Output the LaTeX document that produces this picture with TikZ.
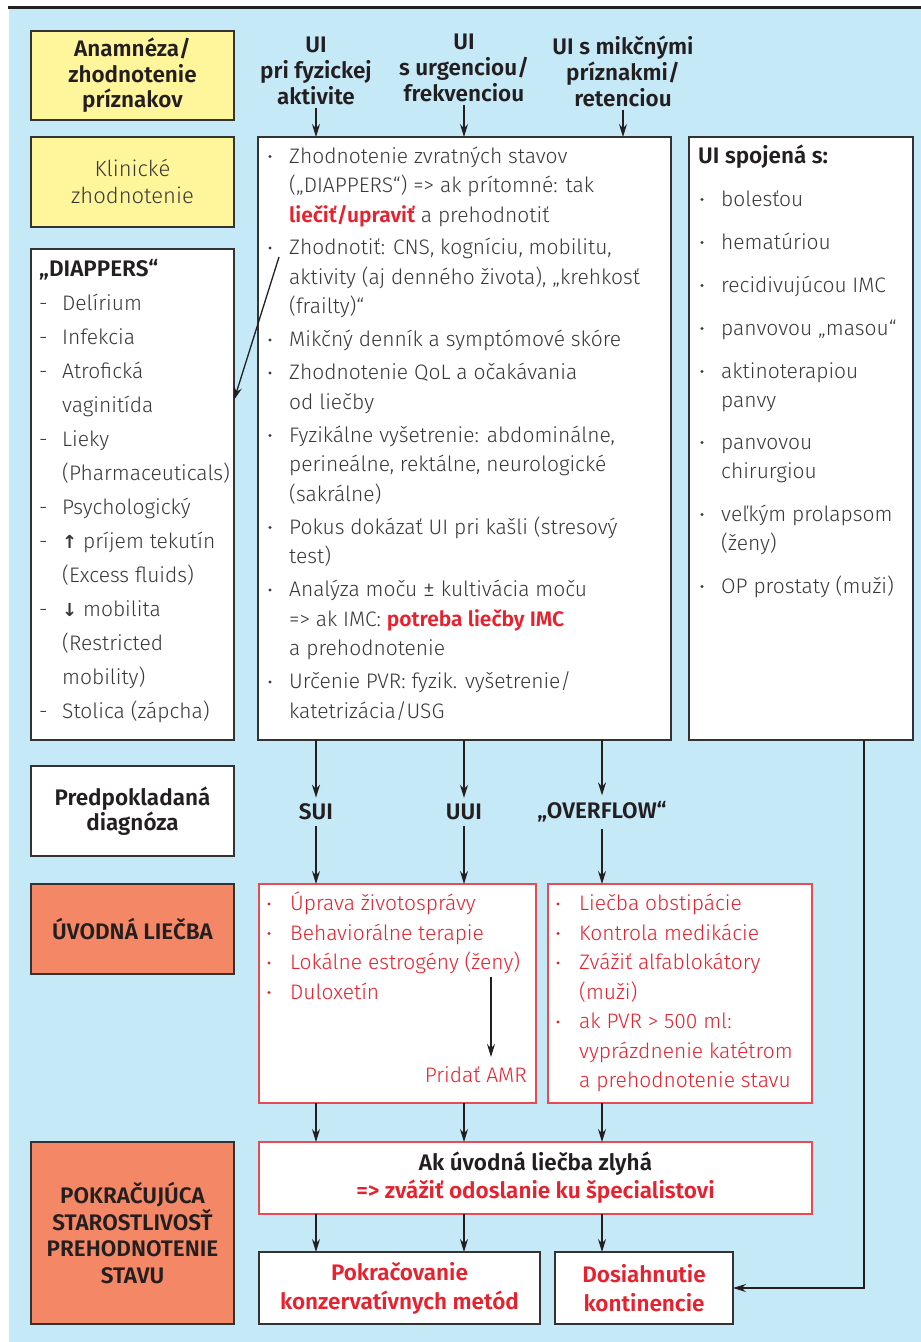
\documentclass[tikz,border=0pt]{standalone}
\usepackage{fontspec}
\setmainfont{Fira Sans Light}[BoldFont={Fira Sans SemiBold}]
\newfontfamily\djv{DejaVu Sans}
\usetikzlibrary{arrows.meta,calc}
\definecolor{bgblue}{HTML}{C6E9F8}
\definecolor{ylw}{HTML}{FFF59B}
\definecolor{salmon}{HTML}{F48866}
\definecolor{redt}{HTML}{E8212E}
\definecolor{redb}{HTML}{E94B55}
\definecolor{txt}{HTML}{383838}
\definecolor{dark}{HTML}{231F20}
\definecolor{brd}{HTML}{333333}
\tikzset{
 box/.style={draw=brd, line width=1.4pt, fill=white, inner sep=0pt, outer sep=0pt, anchor=north west, align=center},
 rbox/.style={box, draw=redb},
 hdr/.style={font=\bfseries\fontsize{22.5}{25.5}\selectfont, text=dark, align=center},
 lt/.style={font=\fontsize{21}{29.5}\selectfont, text=txt, anchor=base west, inner sep=0pt},
 rt/.style={lt, text=redt},
 arr/.style={draw=dark, line width=1.3pt, -{Stealth[length=13pt,width=8pt]}},
}
\newcommand\bul[3]{\fill[#1] (#2,#3-6.5) circle (1.7pt);}
\newcommand\dsh{\makebox[23pt][l]{-}}
\begin{document}
\begin{tikzpicture}[x=1pt,y=-1pt]
\useasboundingbox (0,0) rectangle (921,1342);
\fill[white] (0,0) rectangle (921,1342);
\fill[bgblue] (9,9) rectangle (921,1342);
\draw[line width=3pt,dark] (8,7.5) -- (921,7.5);

% left column boxes
\node[box, fill=ylw, minimum width=203, minimum height=89, hdr] (anam) at (31,31) {Anamnéza/\\zhodnotenie\\príznakov};
\node[box, fill=ylw, minimum width=203, minimum height=90, font=\fontsize{22}{27}\selectfont, text=txt] (klin) at (31,137) {Klinické\\zhodnotenie};
\node[box, minimum width=203, minimum height=491] (diap) at (31,249) {};
\node[box, minimum width=203, minimum height=90, hdr] (pred) at (31,766) {Predpokladaná\\diagnóza};
\node[box, fill=salmon, minimum width=203, minimum height=90, hdr] (uvod) at (31,884) {ÚVODNÁ LIEČBA};
\node[box, fill=salmon, minimum width=203, minimum height=182, hdr, font=\bfseries\fontsize{22.5}{26.7}\selectfont] (pokr) at (31,1142) {POKRAČUJÚCA\\STAROSTLIVOSŤ\\PREHODNOTENIE\\STAVU};

% headers
\node[hdr, font=\bfseries\fontsize{22.5}{26}\selectfont, inner sep=3pt] (h1) at (316,71) {UI\\pri fyzickej\\aktivite};
\node[hdr, font=\bfseries\fontsize{22.5}{26}\selectfont, inner sep=3pt] (h2) at (464,68) {UI\\s urgenciou/\\frekvenciou};
\node[hdr, font=\bfseries\fontsize{22.5}{26}\selectfont, inner sep=3pt] (h3) at (623,71) {UI s mikčnými\\príznakmi/\\retenciou};

% main boxes
\node[box, minimum width=413, minimum height=603] (main) at (258,137) {};
\node[box, minimum width=224, minimum height=603] (uib) at (689,137) {};
\node[rbox, minimum width=277, minimum height=219] (rb1) at (259,884) {};
\node[rbox, minimum width=264, minimum height=219] (rb2) at (548,884) {};
\node[rbox, minimum width=553, minimum height=72, hdr, font=\bfseries\fontsize{22.5}{28}\selectfont] (ak) at (259,1142) {Ak úvodná liečba zlyhá\\{\color{redt}=> zvážiť odoslanie ku špecialistovi}};
\node[box, minimum width=281, minimum height=72, hdr, text=redt, font=\bfseries\fontsize{22.5}{29}\selectfont] (pok) at (259,1252) {Pokračovanie\\konzervatívnych metód};
\node[box, minimum width=178, minimum height=72, hdr, text=redt, font=\bfseries\fontsize{22.5}{29}\selectfont] (dos) at (555,1252) {Dosiahnutie\\kontinencie};

% diagnosis labels
\node[hdr, inner sep=6pt] (sui) at (316,812) {SUI};
\node[hdr, inner sep=6pt] (uui) at (464,812) {UUI};
\node[hdr, inner sep=6pt] (ovf) at (602,812) {„OVERFLOW“};

% DIAPPERS list
\node[lt, font=\bfseries\fontsize{22.5}{29.5}\selectfont, text=dark] (d0) at (39,276) {„DIAPPERS“};
\node[lt] (d1) at (39,310) {\dsh Delírium};
\node[lt] (d2) at (39,344) {\dsh Infekcia};
\node[lt] (d3) at (39,378) {\dsh Atrofická};
\node[lt] (d4) at (62,412) {vaginitída};
\node[lt] (d5) at (39,446) {\dsh Lieky};
\node[lt] (d6) at (62,480) {(Pharmaceuticals)};
\node[lt] (d7) at (39,514) {\dsh Psychologický};
\node[lt] (d8) at (39,548) {\dsh{\djv\bfseries\fontsize{18}{20}\selectfont ↑} príjem tekutín};
\node[lt] (d9) at (62,582) {(Excess fluids)};
\node[lt] (d10) at (39,616) {\dsh{\djv\bfseries\fontsize{18}{20}\selectfont ↓} mobilita};
\node[lt] (d11) at (62,650) {(Restricted};
\node[lt] (d12) at (62,684) {mobility)};
\node[lt] (d13) at (39,718) {\dsh Stolica (zápcha)};

% main list
\bul{txt}{270}{163}\node[lt] (m1a) at (289,163) {Zhodnotenie zvratných stavov};
\node[lt] (m1b) at (289,192.5) {(„DIAPPERS“) => ak prítomné: tak};
\node[lt] (m1c) at (289,222) {{\bfseries\color{redt}liečiť/upraviť} a prehodnotiť};
\bul{txt}{270}{254.5}\node[lt] (m2a) at (289,254.5) {Zhodnotiť: CNS, kogníciu, mobilitu,};
\node[lt] (m2b) at (289,284) {aktivity (aj denného života), „krehkosť};
\node[lt] (m2c) at (289,313.5) {(frailty)“};
\bul{txt}{270}{346.5}\node[lt] (m3a) at (289,346.5) {Mikčný denník a symptómové skóre};
\bul{txt}{270}{379.5}\node[lt] (m4a) at (289,379.5) {Zhodnotenie QoL a očakávania};
\node[lt] (m4b) at (289,409) {od liečby};
\bul{txt}{270}{442}\node[lt] (m5a) at (289,442) {Fyzikálne vyšetrenie: abdominálne,};
\node[lt] (m5b) at (289,471.5) {perineálne, rektálne, neurologické};
\node[lt] (m5c) at (289,501) {(sakrálne)};
\bul{txt}{270}{534}\node[lt] (m6a) at (289,534) {Pokus dokázať UI pri kašli (stresový};
\node[lt] (m6b) at (289,563.5) {test)};
\bul{txt}{270}{596.5}\node[lt] (m7a) at (289,596.5) {Analýza moču {\fontsize{24}{24}\selectfont ±} kultivácia moču};
\node[lt] (m7b) at (289,626) {=> ak IMC: {\bfseries\color{redt}potreba liečby IMC}};
\node[lt] (m7c) at (289,655.5) {a prehodnotenie};
\bul{txt}{270}{688.5}\node[lt] (m8a) at (289,688.5) {Určenie PVR: fyzik. vyšetrenie/};
\node[lt] (m8b) at (289,718) {katetrizácia/USG};

% UI spojena list
\node[lt, font=\bfseries\fontsize{22.5}{29.5}\selectfont, text=dark] (u0) at (698,163) {UI spojená s:};
\bul{txt}{702}{206}\node[lt] (u1) at (721,206) {bolesťou};
\bul{txt}{702}{249}\node[lt] (u2) at (721,249) {hematúriou};
\bul{txt}{702}{292}\node[lt] (u3) at (721,292) {recidivujúcou IMC};
\bul{txt}{702}{335}\node[lt] (u4) at (721,335) {panvovou „masou“};
\bul{txt}{702}{378}\node[lt] (u5) at (721,378) {aktinoterapiou};
\node[lt] (u5b) at (721,407) {panvy};
\bul{txt}{702}{449}\node[lt] (u6) at (721,449) {panvovou};
\node[lt] (u6b) at (721,478) {chirurgiou};
\bul{txt}{702}{521}\node[lt] (u7) at (721,521) {veľkým prolapsom};
\node[lt] (u7b) at (721,550) {(ženy)};
\bul{txt}{702}{593}\node[lt] (u8) at (721,593) {OP prostaty (muži)};

% red box 1
\bul{redt}{269}{910.5}\node[rt] (r1) at (290,910.5) {Úprava životosprávy};
\bul{redt}{269}{940}\node[rt] (r2) at (290,940) {Behaviorálne terapie};
\bul{redt}{269}{969.5}\node[rt] (r3) at (290,969.5) {Lokálne estrogény (ženy)};
\bul{redt}{269}{999}\node[rt] (r4) at (290,999) {Duloxetín};
\node[rt, anchor=base east, inner ysep=9pt] (amr) at (527,1082) {Pridať AMR};
\coordinate (amrs) at (491,977);
\draw[arr] (amrs) -- (amrs |- amr.north);

% red box 2
\bul{redt}{558}{910.5}\node[rt] (s1) at (579,910.5) {Liečba obstipácie};
\bul{redt}{558}{940}\node[rt] (s2) at (579,940) {Kontrola medikácie};
\bul{redt}{558}{969.5}\node[rt] (s3) at (579,969.5) {Zvážiť alfablokátory};
\node[rt] (s3b) at (579,999) {(muži)};
\bul{redt}{558}{1028.5}\node[rt] (s4) at (579,1028.5) {ak PVR > 500 ml:};
\node[rt] (s4b) at (579,1058) {vyprázdnenie katétrom};
\node[rt] (s4c) at (579,1087.5) {a prehodnotenie stavu};

% connectors
\draw[arr] (h1.south) -- (h1.south |- main.north);
\draw[arr] (h2.south) -- (h2.south |- main.north);
\draw[arr] (h3.south) -- (h3.south |- main.north);
\coordinate (dstart) at (279,257);
\draw[arr] (dstart) -- ($(diap.north east)!0.3075!(diap.south east)$);
\draw[arr] (main.south -| sui) -- (sui.north);
\draw[arr] (main.south -| uui) -- (uui.north);
\draw[arr] (main.south -| ovf) -- (ovf.north);
\draw[arr] (sui.south) -- (sui.south |- rb1.north);
\draw[arr] (uui.south) -- (uui.south |- rb1.north);
\draw[arr] (ovf.south) -- (ovf.south |- rb2.north);
\draw[arr] (rb1.south -| sui) -- (ak.north -| sui);
\draw[arr] (rb1.south -| uui) -- (ak.north -| uui);
\draw[arr] (rb2.south -| ovf) -- (ak.north -| ovf);
\draw[arr] (ak.south -| sui) -- (pok.north -| sui);
\draw[arr] (ak.south -| uui) -- (pok.north -| uui);
\draw[arr] (ak.south -| ovf) -- (dos.north -| ovf);
\coordinate (uix) at (864,0);
\draw[arr] (uib.south -| uix) |- (dos.east);
\end{tikzpicture}
\end{document}
